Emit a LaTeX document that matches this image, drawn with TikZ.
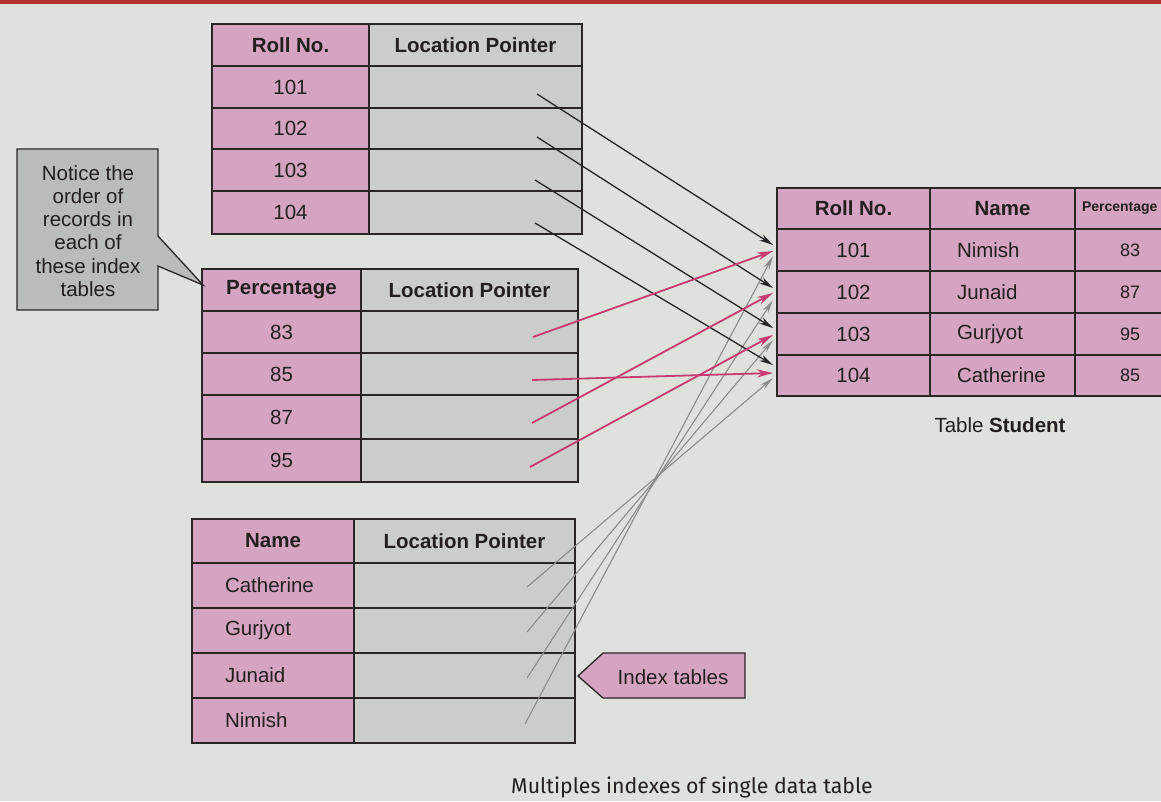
\documentclass[tikz,border=0pt]{standalone}
\usepackage{fontspec}
\setmainfont{Liberation Sans}
\newfontfamily\capfont{Fira Sans}
\usetikzlibrary{arrows.meta,calc}
\definecolor{bgc}{HTML}{DEE1DC}
\definecolor{pinkc}{HTML}{D5A4C3}
\definecolor{grayc}{HTML}{CBCDCA}
\definecolor{linec}{HTML}{2A2626}
\definecolor{boxc}{HTML}{B9BCB8}
\definecolor{arrpink}{HTML}{C83A70}
\definecolor{arrgray}{HTML}{8A8C8A}
\definecolor{arrblack}{HTML}{262626}
\definecolor{redbar}{HTML}{B3312F}
\definecolor{txtc}{HTML}{231F20}
\newcommand\fs{\fontsize{20.5}{23.3}\selectfont}
\newcommand\mkcell[7]{\node[#6, minimum width={#4-#2}, minimum height={#5-#3}] (#1) at ({(#2+#4)/2},{(#3+#5)/2}) {#7};}
\begin{document}
\begin{tikzpicture}[x=1pt,y=-1pt,
  cellbase/.style={draw=linec, line width=1.5pt, inner sep=0pt, text=txtc, font=\fs},
  pcell/.style={cellbase, fill=pinkc},
  gcell/.style={cellbase, fill=grayc},
  hdr/.style={font=\fs\bfseries},
  nameA/.style={align=left, inner xsep=33pt, text width=96pt},
  nameB/.style={align=left, inner xsep=27pt, text width=91pt},
  pctcol/.style={font=\fontsize{18}{20}\selectfont},
  pcthdr/.style={font=\fontsize{14}{16}\selectfont\bfseries, align=left, inner xsep=7pt, text width=96pt},
  blk/.style={draw=arrblack, line width=1.3pt, -{Stealth[length=14pt,width=7pt]}},
  pnk/.style={draw=arrpink, line width=1.8pt, -{Stealth[length=16pt,width=8pt]}},
  gry/.style={draw=arrgray, line width=1.1pt, -{Stealth[length=14pt,width=6pt]}},
  callout/.style={draw=linec, line width=1.3pt}
]
\useasboundingbox (0,0) rectangle (1161,801);
\clip (0,0) rectangle (1161,801);
\fill[bgc] (0,0) rectangle (1161,801);
\fill[redbar] (0,0) rectangle (1161,4);

% ---- Index table 1: Roll No.
\mkcell{t1h1}{212}{24}{369}{66}{pcell,hdr}{Roll No.}
\mkcell{t1h2}{369}{24}{582}{66}{gcell,hdr}{Location Pointer}
\mkcell{t1a1}{212}{66}{369}{108}{pcell}{101}
\mkcell{t1b1}{369}{66}{582}{108}{gcell}{}
\mkcell{t1a2}{212}{108}{369}{149}{pcell}{102}
\mkcell{t1b2}{369}{108}{582}{149}{gcell}{}
\mkcell{t1a3}{212}{149}{369}{191}{pcell}{103}
\mkcell{t1b3}{369}{149}{582}{191}{gcell}{}
\mkcell{t1a4}{212}{191}{369}{234}{pcell}{104}
\mkcell{t1b4}{369}{191}{582}{234}{gcell}{}

% ---- Index table 2: Percentage
\mkcell{t2h1}{202}{269}{361}{311}{pcell,hdr}{Percentage}
\mkcell{t2h2}{361}{269}{578}{311}{gcell,hdr}{Location Pointer}
\mkcell{t2a1}{202}{311}{361}{353}{pcell}{83}
\mkcell{t2b1}{361}{311}{578}{353}{gcell}{}
\mkcell{t2a2}{202}{353}{361}{395}{pcell}{85}
\mkcell{t2b2}{361}{353}{578}{395}{gcell}{}
\mkcell{t2a3}{202}{395}{361}{439}{pcell}{87}
\mkcell{t2b3}{361}{395}{578}{439}{gcell}{}
\mkcell{t2a4}{202}{439}{361}{482}{pcell}{95}
\mkcell{t2b4}{361}{439}{578}{482}{gcell}{}

% ---- Index table 3: Name
\mkcell{t3h1}{192}{519}{354}{563}{pcell,hdr}{Name}
\mkcell{t3h2}{354}{519}{575}{563}{gcell,hdr}{Location Pointer}
\mkcell{t3a1}{192}{563}{354}{608}{pcell,nameA}{Catherine}
\mkcell{t3b1}{354}{563}{575}{608}{gcell}{}
\mkcell{t3a2}{192}{608}{354}{653}{pcell,nameA}{Gurjyot}
\mkcell{t3b2}{354}{608}{575}{653}{gcell}{}
\mkcell{t3a3}{192}{653}{354}{698}{pcell,nameA}{Junaid}
\mkcell{t3b3}{354}{653}{575}{698}{gcell}{}
\mkcell{t3a4}{192}{698}{354}{743}{pcell,nameA}{Nimish}
\mkcell{t3b4}{354}{698}{575}{743}{gcell}{}

% ---- Table Student
\mkcell{sh1}{777}{188}{930}{229}{pcell,hdr}{Roll No.}
\mkcell{sh2}{930}{188}{1075}{229}{pcell,hdr}{Name}
\mkcell{sh3}{1075}{188}{1185}{229}{pcell,pcthdr}{Percentage}
\mkcell{sa1}{777}{229}{930}{271}{pcell}{101}
\mkcell{sb1}{930}{229}{1075}{271}{pcell,nameB}{Nimish}
\mkcell{sc1}{1075}{229}{1185}{271}{pcell,pctcol}{83}
\mkcell{sa2}{777}{271}{930}{313}{pcell}{102}
\mkcell{sb2}{930}{271}{1075}{313}{pcell,nameB}{Junaid}
\mkcell{sc2}{1075}{271}{1185}{313}{pcell,pctcol}{87}
\mkcell{sa3}{777}{313}{930}{355}{pcell}{103}
\mkcell{sb3}{930}{313}{1075}{355}{pcell,nameB}{Gurjyot}
\mkcell{sc3}{1075}{313}{1185}{355}{pcell,pctcol}{95}
\mkcell{sa4}{777}{355}{930}{396}{pcell}{104}
\mkcell{sb4}{930}{355}{1075}{396}{pcell,nameB}{Catherine}
\mkcell{sc4}{1075}{355}{1185}{396}{pcell,pctcol}{85}
\node[font=\fs, text=txtc] (stcap) at (1000,425) {Table \textbf{Student}};

% ---- Callout: Notice ...
\path[callout, fill=boxc] (17,149) -- (158,149) -- (158,236) -- (203,285) -- (158,266) -- (158,310) -- (17,310) -- cycle;
\node[font=\fs, text=txtc, align=center] (notice) at (88,231)
  {Notice the\\order of\\records in\\each of\\these index\\tables};

% ---- Callout: Index tables
\path[callout, fill=pinkc] (578,676) -- (603,653) -- (745,653) -- (745,698) -- (603,698) -- cycle;
\node[font=\fs, text=txtc] (idx) at (673,677) {Index tables};

% ---- Caption
\node[font=\capfont\fontsize{21.3}{24}\selectfont, text=txtc] (caption) at (692,787) {Multiples indexes of single data table};

% ---- Arrow end points
\coordinate (k1) at (537,94);  \coordinate (K1) at (773,245);
\coordinate (k2) at (537,137); \coordinate (K2) at (773,288);
\coordinate (k3) at (535,180); \coordinate (K3) at (773,328);
\coordinate (k4) at (535,223); \coordinate (K4) at (773,365);
\coordinate (p83) at (533,337); \coordinate (P1) at (773,251);
\coordinate (p85) at (532,380); \coordinate (P4) at (773,373);
\coordinate (p87) at (532,423); \coordinate (P2) at (773,293);
\coordinate (p95) at (530,467); \coordinate (P3) at (773,335);
\coordinate (gC) at (527,587); \coordinate (G4) at (773,378);
\coordinate (gG) at (527,632); \coordinate (G3) at (773,340);
\coordinate (gJ) at (527,678); \coordinate (G2) at (773,300);
\coordinate (gN) at (525,724); \coordinate (G1) at (773,256);

\draw[gry] (gC) -- (G4);
\draw[gry] (gG) -- (G3);
\draw[gry] (gJ) -- (G2);
\draw[gry] (gN) -- (G1);
\draw[blk] (k1) -- (K1);
\draw[blk] (k2) -- (K2);
\draw[blk] (k3) -- (K3);
\draw[blk] (k4) -- (K4);
\draw[pnk] (p83) -- (P1);
\draw[pnk] (p85) -- (P4);
\draw[pnk] (p87) -- (P2);
\draw[pnk] (p95) -- (P3);
\end{tikzpicture}
\end{document}
